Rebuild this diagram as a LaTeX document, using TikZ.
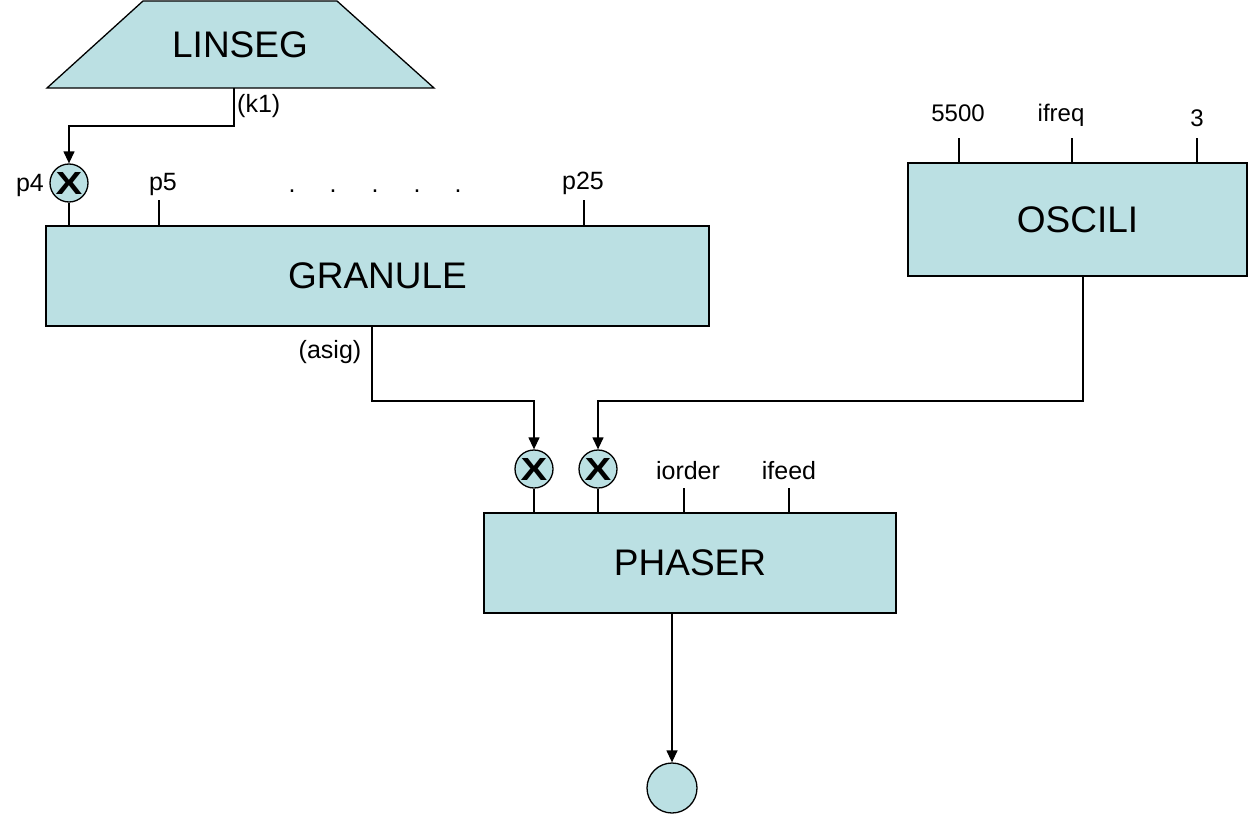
\documentclass[tikz,border=0pt]{standalone}
\usepackage{fontspec}
\setmainfont{Liberation Sans}
\usetikzlibrary{arrows.meta,calc}
\definecolor{boxfill}{RGB}{187,224,227}
\newcommand\multx{\fontsize{32}{32}\selectfont\bfseries\scalebox{1.25}[1]{X}}
\begin{document}
\begin{tikzpicture}[x=1pt,y=-1pt,
  box/.style={draw=black,line width=1.5pt,fill=boxfill,inner sep=0pt,font=\fontsize{37}{40}\selectfont},
  mult/.style={circle,draw=black,line width=1.3pt,fill=boxfill,minimum size=38pt,inner sep=0pt},
  lab/.style={inner sep=0pt,font=\fontsize{25}{28}\selectfont},
  labb/.style={inner sep=0pt,font=\fontsize{24}{27}\selectfont},
  wire/.style={line width=1.3pt},
  arr/.style={wire,-{Triangle[width=11pt,length=12pt]}}]
\useasboundingbox (0,0) rectangle (1249,816);

% LINSEG
\draw[line width=1.3pt,fill=boxfill] (143,1) -- (337,1) -- (434,88) -- (47,88) -- cycle;
\node[inner sep=0pt,font=\fontsize{37}{40}\selectfont] (linseg) at (240,45) {LINSEG};
\coordinate (k1src) at (234,88);

% boxes
\node[box,minimum width=663pt,minimum height=100pt] (granule) at (377.5,276) {GRANULE};
\node[box,minimum width=339pt,minimum height=113pt] (oscili) at (1077.5,219.5) {OSCILI};
\node[box,minimum width=412pt,minimum height=100pt] (phaser) at (690,563) {PHASER};

% multipliers
\node[mult] (m1) at (69,183) {\multx};
\node[mult] (m2) at (534,469) {\multx};
\node[mult] (m3) at (598,469) {\multx};
\node[mult,minimum size=50pt] (out) at (672,788) {};

% LINSEG -> p4
\draw[arr] (k1src) -- (234,126) -| (m1.north);
\node[lab,anchor=west] (k1) at (237,106) {(k1)};
\draw[wire] (m1.south) -- (m1.south |- granule.north);
\node[lab] (p4) at (30,185) {p4};

% GRANULE inputs
\node[lab] (p5) at (163,184) {p5};
\coordinate (p5s) at (159,200);
\draw[wire] (p5s) -- (p5s |- granule.north);
\node[lab] (p25) at (583,183) {p25};
\coordinate (p25s) at (584,200);
\draw[wire] (p25s) -- (p25s |- granule.north);
\foreach \x [count=\i] in {292,333,375,417,458} \node[lab] (dot\i) at (\x,191) {.};

% GRANULE -> PHASER
\draw[arr] (372,0 |- granule.south) -- (372,401) -| (m2.north);
\node[lab] (asig) at (330,352) {(asig)};

% OSCILI -> PHASER
\draw[arr] (1083,0 |- oscili.south) -- (1083,401) -| (m3.north);
\draw[wire] (m2.south) -- (m2.south |- phaser.north);
\draw[wire] (m3.south) -- (m3.south |- phaser.north);

% PHASER inputs
\node[lab] (iorder) at (688,471) {iorder};
\coordinate (ios) at (684,488);
\draw[wire] (ios) -- (ios |- phaser.north);
\node[lab] (ifeed) at (789,471) {ifeed};
\coordinate (ifs) at (789,488);
\draw[wire] (ifs) -- (ifs |- phaser.north);

% PHASER output
\draw[arr] (672,0 |- phaser.south) -- (out.north);

% OSCILI inputs
\node[labb] (l5500) at (958,113) {5500};
\node[labb] (lifreq) at (1061,115) {ifreq};
\node[labb] (lthree) at (1197,118) {3};
\coordinate (os1) at (959,138);
\coordinate (os2) at (1072,138);
\coordinate (os3) at (1197,138);
\draw[wire] (os1) -- (os1 |- oscili.north);
\draw[wire] (os2) -- (os2 |- oscili.north);
\draw[wire] (os3) -- (os3 |- oscili.north);
\end{tikzpicture}
\end{document}
